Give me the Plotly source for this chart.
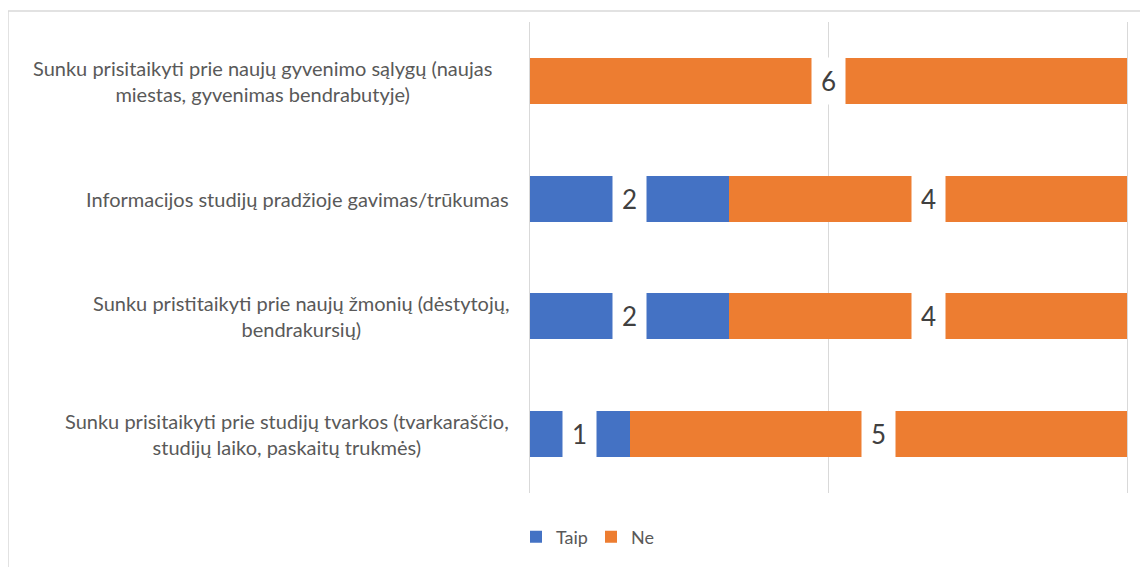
import plotly.graph_objects as go

categories = [
    "Sunku prisitaikyti prie studijų tvarkos (tvarkaraščio,<br>studijų laiko, paskaitų trukmės)",
    "Sunku pristitaikyti prie naujų žmonių (dėstytojų,<br>bendrakursių)",
    "Informacijos studijų pradžioje gavimas/trūkumas",
    "Sunku prisitaikyti prie naujų gyvenimo sąlygų (naujas<br>miestas, gyvenimas bendrabutyje)",
]
taip = [1, 2, 2, 0]
ne = [5, 4, 4, 6]
series_names = ["Taip", "Ne"]
colors = ["#4472C4", "#ED7D31"]

# page has an 8px body margin, so the figure is sized to fit inside it
OFF = 8
W, H = 1148 - OFF, 567 - OFF
L, R, T, B = 530 - OFF, 21, 22 - OFF, 74
pw, ph = W - L - R, H - T - B

def px_x(p):  # page pixel -> paper x
    return (p - OFF - L) / pw

def px_y(p):  # page pixel -> paper y
    return (H - B - (p - OFF)) / ph

FONT = "Lato, Open Sans, sans-serif"

fig = go.Figure()
ycats = list(range(len(categories)))
for name, vals, col in zip(series_names, [taip, ne], colors):
    fig.add_trace(go.Bar(
        y=ycats, x=vals, name=name, orientation="h",
        marker=dict(color=col, line=dict(width=0)),
        hoverinfo="x+name",
    ))

# data labels with white boxes
for i in ycats:
    base = 0
    for vals in (taip, ne):
        v = vals[i]
        if v > 0:
            fig.add_annotation(
                x=base + v / 2, y=i, xref="x", yref="y",
                text=str(v), showarrow=False,
                font=dict(family=FONT, size=26, color="#404040"),
                bgcolor="white", width=33, height=46, borderpad=0,
            )
        base += v

# category labels
shifts = [0, 0, 0, -17]
for i, c in enumerate(categories):
    fig.add_annotation(
        x=px_x(511), y=i, xref="paper", yref="y",
        text=c, showarrow=False, xanchor="right", align="center",
        xshift=shifts[i],
        font=dict(family=FONT, size=20, color="#595959"),
    )

# outer chart border
fig.add_shape(type="rect", xref="paper", yref="paper",
              x0=px_x(8), x1=px_x(1170), y0=px_y(590), y1=px_y(11),
              line=dict(color="#D9D9D9", width=1.5), layer="below")

fig.update_layout(
    width=W, height=H,
    margin=dict(l=L, r=R, t=T, b=B),
    barmode="stack", bargap=0.61,
    plot_bgcolor="white", paper_bgcolor="white",
    showlegend=True,
    legend=dict(orientation="h", x=px_x(516), xanchor="left",
                y=px_y(537), yanchor="middle",
                font=dict(family=FONT, size=18, color="#595959"),
                traceorder="normal", itemwidth=30, entrywidth=30,
                entrywidthmode="pixels"),
    xaxis=dict(range=[0, 6], dtick=3, tick0=0, showgrid=True, gridcolor="#D9D9D9",
               gridwidth=1, zeroline=False, showticklabels=False, showline=False,
               fixedrange=True),
    yaxis=dict(range=[-0.5, 3.5], showticklabels=False, showgrid=False,
               zeroline=False, showline=True, mirror=True, linecolor="#D9D9D9",
               linewidth=1, fixedrange=True),
)

fig.write_html("out.html")
